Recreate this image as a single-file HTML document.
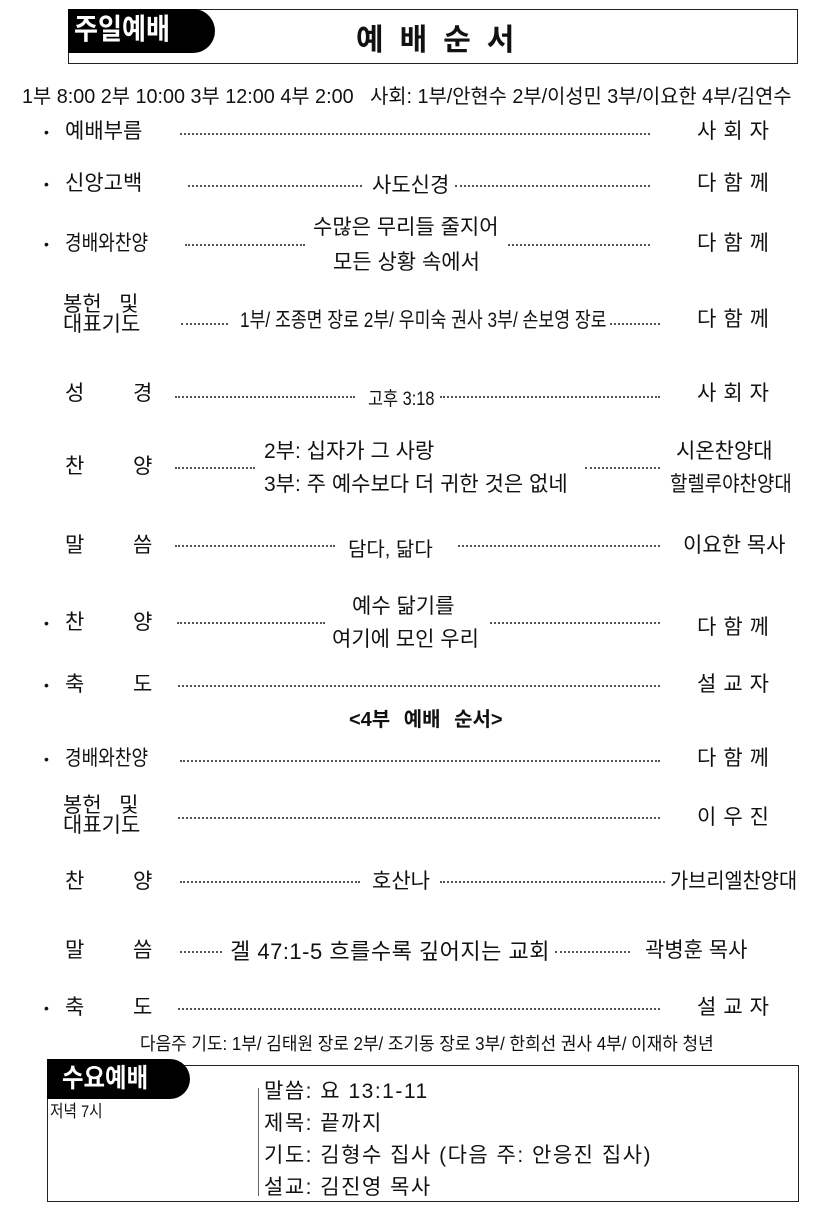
<!DOCTYPE html>
<html><head><meta charset="utf-8"><style>
body{margin:0;width:825px;height:1211px;background:#fff;position:relative;overflow:hidden;font-family:"Liberation Sans","Noto Sans CJK KR",sans-serif;color:#111}
.t{position:absolute;white-space:nowrap;line-height:26px;font-size:21px;top:0}
.c{transform-origin:left center;transform:scaleX(.86)}
.d{position:absolute;height:0;border-top:2px dotted #555}
.b{position:absolute;left:44px;font-size:14px;line-height:26px}
.r{letter-spacing:7px}
</style></head><body>
<div style="position:absolute;left:68px;top:9px;width:728px;height:53px;border:1.5px solid #222"></div>
<div style="position:absolute;left:68px;top:9px;width:147px;height:44px;background:#000;border-radius:0 24px 24px 0"></div>
<div class="t" style="left:74px;top:12px;color:#fff;font-size:29px;line-height:36px;font-weight:bold;transform:scaleX(.9);transform-origin:left">주일예배</div>
<div class="t" style="left:356px;top:23px;font-size:30px;line-height:36px;font-weight:bold;letter-spacing:16px">예배순서</div>
<div class="t" style="left:22px;top:84px;font-size:20px;transform:scaleX(.99);transform-origin:left">1부 8:00 2부 10:00 3부 12:00 4부 2:00 &nbsp;&nbsp;사회: 1부/안현수 2부/이성민 3부/이요한 4부/김연수</div>

<div class="b" style="top:119px">•</div>
<div class="t" style="left:65px;top:119px">예배부름</div>
<div class="d" style="left:180px;width:470px;top:133px"></div>
<div class="t r" style="left:697px;top:119px">사회자</div>

<div class="b" style="top:171px">•</div>
<div class="t" style="left:65px;top:171px">신앙고백</div>
<div class="d" style="left:188px;width:174px;top:185px"></div>
<div class="t" style="left:372px;top:173px">사도신경</div>
<div class="d" style="left:455px;width:195px;top:185px"></div>
<div class="t r" style="left:697px;top:171px">다함께</div>

<div class="b" style="top:231px">•</div>
<div class="t c" style="left:65px;top:231px">경배와찬양</div>
<div class="d" style="left:185px;width:120px;top:244px"></div>
<div class="t" style="left:313px;top:215px">수많은 무리들 줄지어</div>
<div class="t" style="left:333px;top:250px">모든 상황 속에서</div>
<div class="d" style="left:508px;width:142px;top:244px"></div>
<div class="t r" style="left:697px;top:231px">다함께</div>

<div class="t" style="left:63px;top:295px;line-height:20px">봉헌&nbsp;&nbsp;&nbsp;및<br>대표기도</div>
<div class="d" style="left:181px;width:47px;top:323px"></div>
<div class="t c" style="left:240px;top:308px;transform:scaleX(.82)">1부/ 조종면 장로 2부/ 우미숙 권사 3부/ 손보영 장로</div>
<div class="d" style="left:610px;width:50px;top:323px"></div>
<div class="t r" style="left:697px;top:307px">다함께</div>

<div class="t" style="left:65px;top:381px">성</div>
<div class="t" style="left:133px;top:381px">경</div>
<div class="d" style="left:175px;width:180px;top:396px"></div>
<div class="t c" style="left:368px;top:387px;font-size:19px">고후 3:18</div>
<div class="d" style="left:440px;width:220px;top:396px"></div>
<div class="t r" style="left:697px;top:381px">사회자</div>

<div class="t" style="left:65px;top:454px">찬</div>
<div class="t" style="left:133px;top:454px">양</div>
<div class="d" style="left:175px;width:80px;top:467px"></div>
<div class="t" style="left:264px;top:439px">2부: 십자가 그 사랑</div>
<div class="t" style="left:264px;top:472px">3부: 주 예수보다 더 귀한 것은 없네</div>
<div class="d" style="left:585px;width:75px;top:467px"></div>
<div class="t" style="left:676px;top:439px">시온찬양대</div>
<div class="t" style="left:670px;top:472px;transform:scaleX(.9);transform-origin:left">할렐루야찬양대</div>

<div class="t" style="left:65px;top:533px">말</div>
<div class="t" style="left:133px;top:533px">씀</div>
<div class="d" style="left:175px;width:160px;top:545px"></div>
<div class="t" style="left:348px;top:537px;font-size:20px">담다, 닮다</div>
<div class="d" style="left:458px;width:202px;top:545px"></div>
<div class="t" style="left:683px;top:533px">이요한 목사</div>

<div class="b" style="top:610px">•</div>
<div class="t" style="left:65px;top:610px">찬</div>
<div class="t" style="left:133px;top:610px">양</div>
<div class="d" style="left:177px;width:148px;top:622px"></div>
<div class="t" style="left:352px;top:594px">예수 닮기를</div>
<div class="t" style="left:332px;top:627px">여기에 모인 우리</div>
<div class="d" style="left:490px;width:170px;top:622px"></div>
<div class="t r" style="left:697px;top:615px">다함께</div>

<div class="b" style="top:672px">•</div>
<div class="t" style="left:65px;top:672px">축</div>
<div class="t" style="left:133px;top:672px">도</div>
<div class="d" style="left:178px;width:482px;top:685px"></div>
<div class="t r" style="left:697px;top:672px">설교자</div>
<div class="t" style="left:349px;top:707px;font-weight:bold;font-size:20px;word-spacing:8px">&lt;4부 예배 순서&gt;</div>

<div class="b" style="top:746px">•</div>
<div class="t c" style="left:65px;top:746px">경배와찬양</div>
<div class="d" style="left:180px;width:480px;top:760px"></div>
<div class="t r" style="left:697px;top:746px">다함께</div>

<div class="t" style="left:63px;top:796px;line-height:20px">봉헌&nbsp;&nbsp;&nbsp;및<br>대표기도</div>
<div class="d" style="left:178px;width:482px;top:817px"></div>
<div class="t r" style="left:697px;top:805px">이우진</div>

<div class="t" style="left:65px;top:869px">찬</div>
<div class="t" style="left:133px;top:869px">양</div>
<div class="d" style="left:180px;width:180px;top:881px"></div>
<div class="t" style="left:372px;top:869px">호산나</div>
<div class="d" style="left:440px;width:225px;top:881px"></div>
<div class="t" style="left:670px;top:869px;transform:scaleX(.94);transform-origin:left">가브리엘찬양대</div>

<div class="t" style="left:65px;top:938px">말</div>
<div class="t" style="left:133px;top:938px">씀</div>
<div class="d" style="left:180px;width:42px;top:951px"></div>
<div class="t" style="left:230px;top:939px;font-size:22px;letter-spacing:.5px">겔 47:1-5 흐를수록 깊어지는 교회</div>
<div class="d" style="left:555px;width:75px;top:951px"></div>
<div class="t" style="left:645px;top:938px">곽병훈 목사</div>

<div class="b" style="top:995px">•</div>
<div class="t" style="left:65px;top:995px">축</div>
<div class="t" style="left:133px;top:995px">도</div>
<div class="d" style="left:178px;width:482px;top:1008px"></div>
<div class="t r" style="left:697px;top:995px">설교자</div>
<div class="t" style="left:140px;top:1031px;font-size:18px;transform:scaleX(.94);transform-origin:left">다음주 기도: 1부/ 김태원 장로 2부/ 조기동 장로 3부/ 한희선 권사 4부/ 이재하 청년</div>

<div style="position:absolute;left:47px;top:1065px;width:750px;height:135px;border:1.5px solid #222"></div>
<div style="position:absolute;left:47px;top:1059px;width:143px;height:40px;background:#000;border-radius:0 22px 22px 0"></div>
<div class="t" style="left:62px;top:1062px;color:#fff;font-size:26px;line-height:32px;font-weight:bold;transform:scaleX(.9);transform-origin:left">수요예배</div>
<div class="t c" style="left:50px;top:1102px;font-size:17px;line-height:20px">저녁 7시</div>
<div style="position:absolute;left:258px;top:1088px;width:1px;height:108px;background:#666"></div>
<div class="t" style="left:264px;top:1076px;font-size:21px;line-height:32px;letter-spacing:1.5px">말씀: 요 13:1-11<br>제목: 끝까지<br>기도: 김형수 집사 (다음 주: 안응진 집사)<br>설교: 김진영 목사</div>
</body></html>
